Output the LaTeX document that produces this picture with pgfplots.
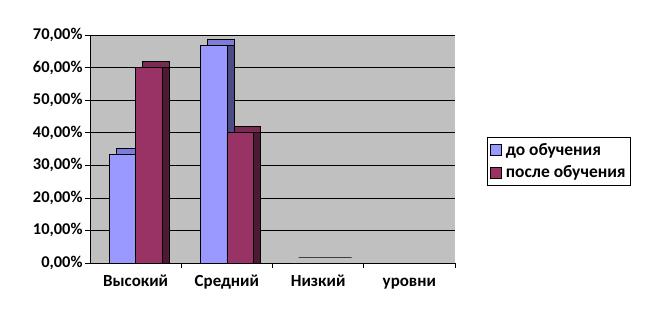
\documentclass[border=0pt]{standalone}
\usepackage{fontspec}
\setmainfont{Carlito}
\usepackage{pgfplots}
\pgfplotsset{compat=1.18}
\definecolor{blueF}{HTML}{9999FF}
\definecolor{blueT}{HTML}{7C7CD9}
\definecolor{blueS}{HTML}{4C4C85}
\definecolor{redF}{HTML}{993366}
\definecolor{redT}{HTML}{7A2952}
\definecolor{redS}{HTML}{4D1A33}
\definecolor{wall}{HTML}{C0C0C0}
\begin{document}
\begin{tikzpicture}
\useasboundingbox (-90bp,-57bp) rectangle (558bp,263bp);
\begin{axis}[
  at={(0,0)}, anchor=south west,
  scale only axis, width=365bp, height=228bp,
  xmin=-0.5, xmax=3.5, ymin=0, ymax=70,
  axis background/.style={fill=wall},
  axis lines*=left,
  axis line style={black, line width=0.6pt},
  ymajorgrids, grid style={black, line width=0.6pt},
  ytick={0,10,...,70},
  /pgf/number format/assume math mode=true,
  yticklabel={\pgfmathprintnumber[fixed,fixed zerofill,precision=2,use comma]{\tick}\%},
  xtick={0,1,2,3},
  xticklabels={Высокий,Средний,Низкий,уровни},
  minor xtick={0.5,1.5,2.5,3.5},
  major x tick style={draw=none},
  tick align=outside,
  major tick length=5bp, minor tick length=5bp,
  tick style={black, line width=0.6pt},
  yticklabel style={font=\bfseries\fontsize{16.5}{16.5}\selectfont, xshift=1bp},
  xticklabel style={font=\bfseries\fontsize{17}{17}\selectfont, text height=12bp, text depth=4bp, yshift=-3bp},
  legend style={at={(1.088,0.447)}, anchor=west, draw=black, line width=0.6pt, fill=white,
    font=\bfseries\fontsize{17.5}{18}\selectfont, row sep=5bp, inner xsep=3bp, inner ysep=4bp,
    /tikz/every odd column/.append style={column sep=2bp}},
  legend cell align=left,
  bar width=0.29,
]
% blue series: top, side, front
\addplot[ybar, bar shift=-0.145, fill=blueT, draw=black, line width=0.5pt, xshift=7bp, yshift=6bp, forget plot]
  coordinates {(0,33.3) (1,66.7) (2,0)};
\addplot[ybar, bar shift=-0.145, fill=blueS, draw=black, line width=0.5pt, xshift=7bp, forget plot]
  coordinates {(0,33.3) (1,66.7) (2,0)};
\addplot[ybar, bar shift=-0.145, fill=blueF, draw=black, line width=0.5pt,
  legend image code/.code={\draw[fill=blueF, draw=black, line width=0.5pt] (0bp,-5.5bp) rectangle (11bp,5.5bp);}]
  coordinates {(0,33.3) (1,66.7) (2,0)};
% red series
\addplot[ybar, bar shift=0.145, fill=redT, draw=black, line width=0.5pt, xshift=7bp, yshift=6bp, forget plot]
  coordinates {(0,60) (1,40) (2,0)};
\addplot[ybar, bar shift=0.145, fill=redS, draw=black, line width=0.5pt, xshift=7bp, forget plot]
  coordinates {(0,60) (1,40) (2,0)};
\addplot[ybar, bar shift=0.145, fill=redF, draw=black, line width=0.5pt,
  legend image code/.code={\draw[fill=redF, draw=black, line width=0.5pt] (0bp,-5.5bp) rectangle (11bp,5.5bp);}]
  coordinates {(0,60) (1,40) (2,0)};
\legend{до обучения, после обучения}
\end{axis}
\end{tikzpicture}
\end{document}
